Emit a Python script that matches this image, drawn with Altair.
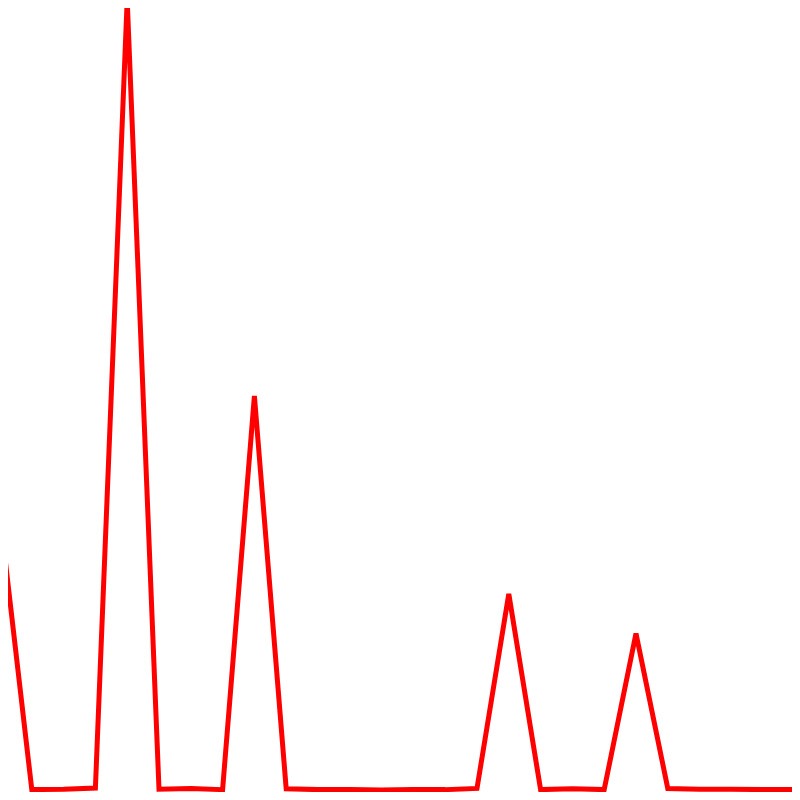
import altair as alt
import pandas as pd

index = list(range(27))
values = [35, 0.3, 0.35, 0.5, 100, 0.35, 0.45, 0.3, 50, 0.4, 0.3, 0.3, 0.25,
          0.3, 0.3, 0.45, 25, 0.3, 0.4, 0.3, 20, 0.45, 0.35, 0.35, 0.3, 0.3, 0.3]

df = pd.DataFrame({"i": index, "v": values})

# The page has an 8px margin, so a 784x784 plot fills the 800x800 window
# exactly; domains are chosen so the visible window shows the same part of
# the series as the reference.
chart = alt.Chart(df).mark_line(color="#ff0000", strokeWidth=5, clip=True).encode(
    x=alt.X("i:Q", scale=alt.Scale(domain=[0.2516, 24.906], nice=False, zero=False), axis=None),
    y=alt.Y("v:Q", scale=alt.Scale(domain=[0, 98.99], nice=False), axis=None),
).properties(
    width=784,
    height=784,
    padding=0,
    autosize=alt.AutoSizeParams(type="none"),
).configure_view(stroke=None)

chart.save("out.html", embed_options={"renderer": "svg", "actions": False})
